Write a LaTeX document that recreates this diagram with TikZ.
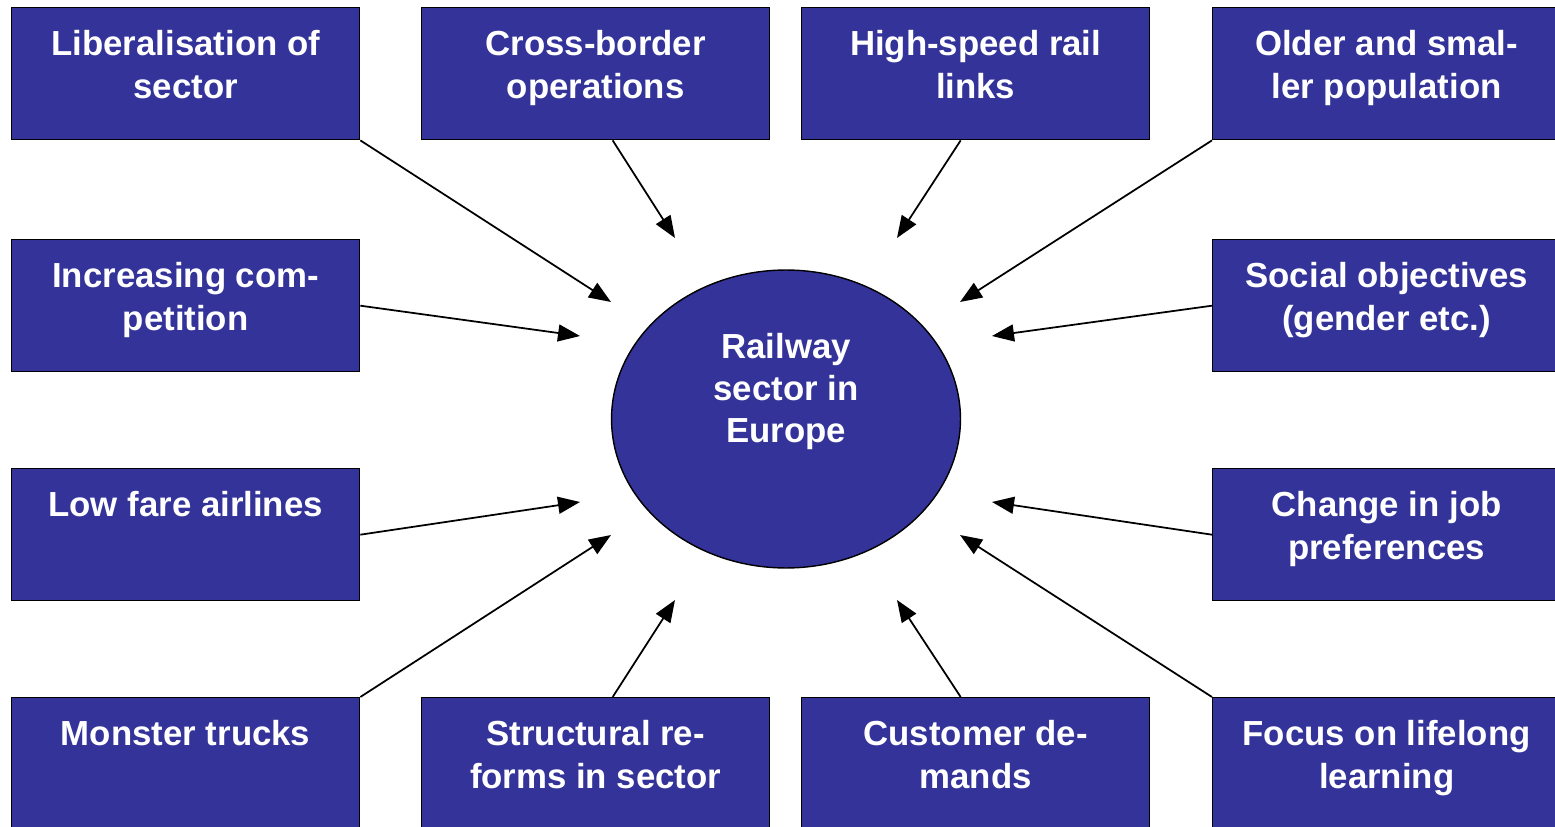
\documentclass[tikz,border=0pt]{standalone}
\usepackage{fontspec}
\setmainfont{Liberation Sans}
\usetikzlibrary{arrows.meta,shapes.geometric}
\definecolor{boxblue}{RGB}{51,51,153}

\newcommand{\boxtext}[1]{\parbox[t][2.64cm][t]{6.96cm}{\centering\vspace*{0.46cm}#1}}

\begin{document}
\begin{tikzpicture}[x=0.02cm, y=-0.02cm,
    every node/.style={font=\bfseries\fontsize{19.8}{24}\selectfont, text=white},
    factor/.style={draw=black, line width=0.8pt, fill=boxblue, inner sep=0pt, anchor=north west},
    hub/.style={ellipse, draw=black, line width=0.8pt, fill=boxblue, inner sep=0pt,
                minimum width=6.98cm, minimum height=5.96cm},
    push/.style={line width=1pt, -{Triangle[length=0.44cm, width=0.34cm]}}]
      \useasboundingbox (0,0) rectangle (1555,827);
      % the sector in the middle
      \node[hub] (rail) at (786,419) {\raisebox{1.22cm}[0pt][0pt]{\parbox[t]{4cm}{\centering Railway\\sector in\\Europe}}};
      % left column
      \node[factor] (lib) at (11,7) {\boxtext{Liberalisation of\\sector}};
      \node[factor] (comp) at (11,239) {\boxtext{Increasing com-\\petition}};
      \node[factor] (airl) at (11,468) {\boxtext{Low fare airlines}};
      \node[factor] (trucks) at (11,697) {\boxtext{Monster trucks}};
      % middle, top and bottom
      \node[factor] (cross) at (421,7) {\boxtext{Cross-border\\operations}};
      \node[factor] (hsr) at (801,7) {\boxtext{High-speed rail\\links}};
      \node[factor] (reform) at (421,697) {\boxtext{Structural re-\\forms in sector}};
      \node[factor] (demand) at (801,697) {\boxtext{Customer de-\\mands}};
      % right column
      \node[factor] (older) at (1212,7) {\boxtext{Older and smal-\\ler population}};
      \node[factor] (social) at (1212,239) {\boxtext{Social objectives\\(gender etc.)}};
      \node[factor] (jobs) at (1212,468) {\boxtext{Change in job\\preferences}};
      \node[factor] (learn) at (1212,697) {\boxtext{Focus on lifelong\\learning}};
      % arrow tips round the ellipse
      \coordinate (t-lib) at (611,302);
      \coordinate (t-cross) at (675,238);
      \coordinate (t-hsr) at (897,238);
      \coordinate (t-older) at (960,302);
      \coordinate (t-comp) at (580,336);
      \coordinate (t-social) at (992,336);
      \coordinate (t-airl) at (580,502);
      \coordinate (t-jobs) at (992,502);
      \coordinate (t-trucks) at (611,535);
      \coordinate (t-reform) at (675,600);
      \coordinate (t-demand) at (897,600);
      \coordinate (t-learn) at (960,535);
      \draw[push] (lib.south east) -- (t-lib);
      \draw[push] ([xshift=0.34cm]cross.south) -- (t-cross);
      \draw[push] ([xshift=-0.3cm]hsr.south) -- (t-hsr);
      \draw[push] (older.south west) -- (t-older);
      \draw[push] (comp.east) -- (t-comp);
      \draw[push] (social.west) -- (t-social);
      \draw[push] (airl.east) -- (t-airl);
      \draw[push] (jobs.west) -- (t-jobs);
      \draw[push] (trucks.north east) -- (t-trucks);
      \draw[push] ([xshift=0.34cm]reform.north) -- (t-reform);
      \draw[push] ([xshift=-0.3cm]demand.north) -- (t-demand);
      \draw[push] (learn.north west) -- (t-learn);
\end{tikzpicture}
\end{document}
